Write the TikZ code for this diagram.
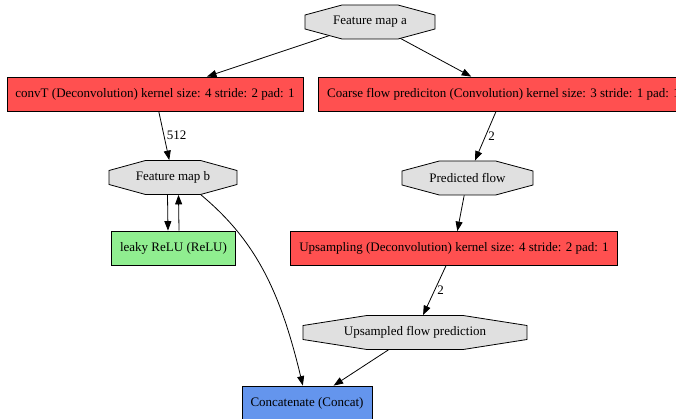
\documentclass[tikz,border=0pt]{standalone}
\usepackage{fontspec}
\setmainfont{Liberation Serif}
\usepackage{tikz}
\usetikzlibrary{arrows.meta}
\definecolor{convred}{HTML}{FF5050}
\definecolor{blobgray}{HTML}{E0E0E0}
\definecolor{relugreen}{HTML}{90EE90}
\definecolor{concatblue}{HTML}{6495ED}

\tikzset{
  layer/.style={draw, rectangle, fill=convred, minimum height=34, inner xsep=8.5pt, inner ysep=0pt},
  blob/.style={rectangle, inner sep=0pt, minimum width=#1, minimum height=34},
  octagon/.style={draw, fill=blobgray},
  lbl/.style={right, inner sep=2.5pt},
}

\begin{document}
\begin{tikzpicture}[x=1pt, y=-1pt, line width=0.8pt,
  >={Triangle[length=9.5pt,width=7pt]},
  every node/.append style={font=\fontsize{13}{15}\selectfont}]
   % canvas
   \useasboundingbox (0,0) rectangle (676,419);
   \clip (0,0) rectangle (676,419);

   % coords of the blobs
   \coordinate (fmaC) at (370,22);
   \coordinate (fmbC) at (173,177.5);
   \coordinate (pfC) at (467.5,178);
   \coordinate (ufpC) at (415,332.5);

   % layers
   \node[layer] (convT) at (155,94) {convT (Deconvolution) kernel size: 4 stride: 2 pad: 1};
   \node[layer] (coarse) at (503.5,94) {Coarse flow prediciton (Convolution) kernel size: 3 stride: 1 pad: 1};
   \node[layer, fill=relugreen] (relu) at (173.5,248) {leaky ReLU (ReLU)};
   \node[layer] (upconv) at (454,248.5) {Upsampling (Deconvolution) kernel size: 4 stride: 2 pad: 1};
   \node[layer, fill=concatblue] (concat) at (307,403) {Concatenate (Concat)};

   % these two leave feature map a through its slanted sides
   \draw[->] (fmaC) -- (convT);
   \draw[->] (fmaC) -- (coarse);

   % octagons behind the blob names
   \foreach \c/\w in {fmaC/130, fmbC/128, pfC/131, ufpC/224}{%
      \draw[octagon, shift={(\c)}] ({-\w/2},-7) -- ({-0.215*\w},-17) -- ({0.215*\w},-17)
         -- ({\w/2},-7) -- ({\w/2},7) -- ({0.215*\w},17) -- ({-0.215*\w},17) -- ({-\w/2},7) -- cycle;
   }

   % blobs
   \node[blob=130] (fma) at (fmaC) {Feature map a};
   \node[blob=128] (fmb) at (fmbC) {Feature map b};
   \node[blob=131] (pf) at (pfC) {Predicted flow};
   \node[blob=224] (ufp) at (ufpC) {Upsampled flow prediction};

   % edges
   \draw[->] (convT) -- (fmb) node[midway, lbl] {512};
   \draw[->] (coarse) -- (pf) node[midway, lbl] {2};
   \draw[->] ([xshift=-5.5pt]fmb.south) -- ([xshift=-5.5pt]relu.north);
   \draw[->] ([xshift=5.5pt]relu.north) -- ([xshift=5.5pt]fmb.south);
   \draw[->] (pf) -- (upconv);
   \draw[->] (upconv) -- (ufp) node[midway, lbl] {2};
   \draw[->] ([xshift=28pt]fmb.south) .. controls (255,240) and (280,290) .. (concat);
   \draw[->] (ufp) -- (concat);
\end{tikzpicture}
\end{document}
